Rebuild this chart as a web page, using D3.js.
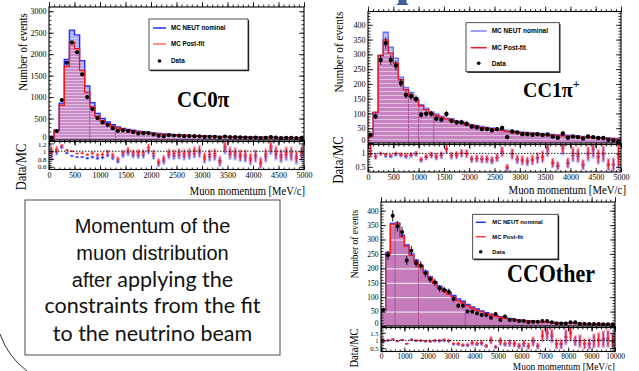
<!DOCTYPE html>
<html>
<head>
<meta charset="utf-8">
<script src="https://cdn.jsdelivr.net/npm/d3@7"></script>
<style>
  body { margin: 0; background: #fff; }
  svg { display: block; }
</style>
</head>
<body>
<svg id="chart" width="639" height="371"></svg>
<script>
// ---- CC0pi : 50 bins of 100 MeV/c
const nominalA = [60, 235, 860, 1880, 2560, 2450, 1850, 1260, 870, 620, 500, 420, 355, 305, 272, 248, 226, 208, 192, 178,
  165, 153, 143, 134, 126, 119, 113, 108, 103, 99, 95, 91, 88, 85, 82, 79, 77, 75, 73, 71, 69, 67, 65, 63, 62, 60, 59, 57, 56, 55];
const postfitA = [52, 215, 810, 1720, 2280, 2130, 1620, 1110, 770, 555, 450, 380, 322, 278, 248, 227, 207, 190, 176, 163,
  151, 140, 131, 123, 116, 109, 104, 99, 94, 90, 87, 83, 80, 77, 75, 72, 70, 68, 66, 64, 62, 61, 59, 58, 56, 55, 53, 52, 51, 50];
const dataA = [55, 210, 930, 1800, 2270, 2045, 1530, 1000, 720, 510, 410, 350, 275, 215, 225, 210, 182, 150, 158, 160,
  128, 98, 85, 112, 105, 100, 90, 92, 90, 86, 72, 74, 75, 58, 82, 68, 66, 62, 58, 52, 56, 44, 52, 68, 54, 46, 50, 50, 44, 48];
const ratioPostA = [0.96, 1.05, 1.14, 1.03, 1.0, 0.94, 0.95, 0.91, 0.95, 0.9, 0.92, 0.98, 0.9, 0.8, 0.96, 1.03, 0.96, 0.96, 0.96, 1.09,
  0.94, 0.73, 0.8, 0.96, 0.94, 0.96, 0.94, 0.96, 1.0, 1.02, 0.85, 0.92, 0.94, 0.76, 1.12, 0.98, 0.96, 0.91, 0.9, 0.82,
  0.9, 0.72, 0.92, 1.12, 0.98, 0.9, 0.96, 0.96, 0.86, 0.96];
const ratioNomA = [0.9, 0.98, 1.1, 0.95, 0.88, 0.85, 0.85, 0.82, 0.85, 0.82, 0.84, 0.9, 0.83, 0.74, 0.9, 0.96, 0.9, 0.9, 0.9, 1.02,
  0.88, 0.68, 0.75, 0.9, 0.88, 0.9, 0.88, 0.9, 0.94, 0.96, 0.8, 0.86, 0.88, 0.72, 1.06, 0.92, 0.9, 0.86, 0.85, 0.77,
  0.85, 0.68, 0.86, 1.06, 0.92, 0.85, 0.91, 0.9, 0.81, 0.9];
const xTicksA = [0, 500, 1000, 1500, 2000, 2500, 3000, 3500, 4000, 4500, 5000];
const yTicksA = [0, 500, 1000, 1500, 2000, 2500, 3000];
const rTicksA = [0.6, 0.8, 1, 1.2];
const splitsA = [800, 1300];

// ---- CC1pi+ : 50 bins of 100 MeV/c
const nominalB = [22, 101, 296, 375, 324, 287, 223, 188, 171, 152, 130, 118, 105, 98, 90, 84, 82, 75, 70, 65,
  62, 59, 56, 53, 51, 47, 45, 43, 41, 38, 37, 36, 35, 33, 32, 30, 29, 28, 27, 26, 25, 24, 22, 21, 20, 19, 18, 17, 16, 15];
const postfitB = [23, 104, 296, 349, 304, 270, 214, 180, 163, 146, 126, 113, 101, 93, 87, 81, 77, 71, 68, 62,
  59, 55, 52, 50, 47, 44, 42, 39, 37, 35, 34, 33, 32, 29, 28, 27, 26, 25, 24, 23, 22, 21, 20, 19, 18, 17, 16, 15, 14, 12];
const dataB = [28, 90, 281, 338, 281, 262, 203, 163, 158, 149, 96, 99, 99, 82, 79, 98, 75, 70, 70, 65,
  56, 53, 47, 47, 43, 47, 51, 20, 39, 36, 30, 30, 28, 30, 27, 29, 22, 18, 32, 18, 22, 20, 15, 22, 20, 17, 17, 11, 9, 6];
const ratioPostB = [1.09, 0.88, 0.99, 0.96, 0.93, 1.0, 0.96, 0.93, 0.96, 1.0, 0.78, 0.88, 0.95, 0.9, 0.95, 1.18, 0.93, 0.95, 1.02, 1.0,
  0.8, 0.82, 0.8, 0.8, 0.76, 0.85, 1.08, 0.48, 1.0, 0.8, 0.76, 0.72, 0.78, 0.85, 0.9, 1.2, 0.66, 0.56, 1.27, 0.66,
  1.0, 0.96, 0.6, 1.02, 1.2, 0.9, 1.02, 0.6, 0.6, 0.92];
const ratioNomB = [1.1, 0.9, 0.99, 0.9, 0.88, 0.95, 0.93, 0.88, 0.92, 0.97, 0.75, 0.85, 0.93, 0.86, 0.92, 1.14, 0.9, 0.92, 1.0, 0.98,
  0.78, 0.8, 0.77, 0.77, 0.73, 0.83, 1.05, 0.46, 0.95, 0.76, 0.72, 0.68, 0.74, 0.8, 0.85, 1.12, 0.62, 0.52, 1.18, 0.62,
  0.92, 0.88, 0.55, 0.95, 1.12, 0.84, 0.95, 0.56, 0.56, 0.84];
const xTicksB = [0, 500, 1000, 1500, 2000, 2500, 3000, 3500, 4000, 4500, 5000];
const yTicksB = [0, 50, 100, 150, 200, 250, 300, 350, 400];
const rTicksB = [0.5, 1];
const splitsB = [800, 1000, 1300];

// ---- CCOther : 50 bins of 200 MeV/c
const nominalC = [57, 255, 356, 357, 315, 281, 250, 228, 210, 190, 170, 153, 138, 126, 116, 106, 94, 86, 75, 66,
  59, 52, 46, 41, 37, 32, 29, 26, 23, 21, 19, 18, 17, 16, 15, 14, 13, 12, 11, 10, 10, 9, 9, 8, 8, 7, 7, 6, 6, 6];
const postfitC = [55, 250, 352, 355, 310, 276, 245, 222, 205, 185, 165, 148, 133, 120, 110, 100, 88, 80, 70, 62,
  55, 49, 43, 38, 34, 30, 27, 24, 22, 20, 18, 17, 16, 15, 14, 13, 12, 11, 10, 10, 9, 9, 8, 8, 7, 7, 7, 6, 6, 5];
const dataC = [56, 245, 382, 346, 326, 227, 261, 218, 210, 183, 162, 152, 131, 125, 119, 94, 70, 70, 50, 50,
  44, 38, 38, 29, 42, 21, 33, 21, 21, 17, 17, 13, 15, 15, 17, 17, 13, 9, 9, 9, 13, 13, 8, 8, 7, 7, 7, 6, 6, 6];
const ratioPostC = [1.0, 1.02, 1.08, 0.96, 1.04, 0.8, 1.06, 1.0, 1.0, 0.96, 0.96, 1.0, 1.0, 1.04, 1.0, 0.8, 0.8, 0.72, 0.72, 0.86,
  0.8, 0.86, 0.66, 1.06, 0.6, 0.96, 0.8, 0.86, 0.8, 0.66, 0.8, 0.66, 0.96, 0.66, 1.36, 1.52, 1.36, 0.8, 0.8, 1.26,
  1.56, 1.0, 1.0, 0.8, 0.8, 1.0, 1.06, 1.12, 1.16, 1.0];
const ratioNomC = [0.97, 0.99, 1.07, 0.95, 1.02, 0.78, 1.04, 0.97, 0.98, 0.94, 0.93, 0.97, 0.96, 0.99, 0.95, 0.76, 0.75, 0.67, 0.67, 0.81,
  0.75, 0.81, 0.62, 0.98, 0.55, 0.9, 0.75, 0.8, 0.76, 0.63, 0.76, 0.62, 0.9, 0.62, 1.28, 1.42, 1.25, 0.73, 0.73, 1.2,
  1.46, 0.95, 0.9, 0.76, 0.75, 0.95, 1.0, 1.06, 1.1, 0.95];
const xTicksC = [0, 1000, 2000, 3000, 4000, 5000, 6000, 7000, 8000, 9000, 10000];
const yTicksC = [0, 50, 100, 150, 200, 250, 300, 350, 400];
const rTicksC = [0.5, 1, 1.5];
const splitsC = [600, 1600, 3600];

const legendLabels = ['MC NEUT nominal', 'MC Post-fit', 'Data'];
const noteLines = [
  [['Momentum of the', 'sans']],
  [['muon distribution', 'sans']],
  [['after', 'sans'], [' applying the', 'lato']],
  [['constraints from the fit', 'lato']],
  [['to the neutrino beam', 'lato']]
];

const SERIF = '"Liberation Serif", "DejaVu Serif", serif';
const SANS = '"Liberation Sans", Arial, sans-serif';

const svg = d3.select('#chart');
const defs = svg.append('defs');

function makeHatch(id, base, stripe, step, y0) {
  const p = defs.append('pattern')
    .attr('id', id)
    .attr('patternUnits', 'userSpaceOnUse')
    .attr('x', 0).attr('y', y0)
    .attr('width', 10).attr('height', step);
  p.append('rect').attr('width', 10).attr('height', step).attr('fill', base);
  p.append('rect').attr('width', 10).attr('height', 0.9).attr('fill', stripe);
}

function label(parent, x, y, s, size, o = {}) {
  const t = parent.append('text')
    .attr('transform', `translate(${x},${y})${o.rot ? ' rotate(-90)' : ''} scale(1,${o.sy || 1})`)
    .attr('font-family', o.family || SERIF)
    .attr('font-size', size)
    .attr('font-weight', o.bold ? 'bold' : 'normal')
    .attr('text-anchor', o.anchor || 'start')
    .attr('fill', o.fill || '#000')
    .text(s);
  return t;
}

function tickSet(g, scale, orient, values, size, withLabels, fs) {
  const gen = {left: d3.axisLeft, right: d3.axisRight, top: d3.axisTop, bottom: d3.axisBottom}[orient];
  const ax = gen(scale).tickValues(values).tickSize(-size).tickPadding(2.5)
    .tickFormat(withLabels ? d3.format('') : '');
  const a = g.append('g').call(ax);
  a.select('.domain').remove();
  a.selectAll('line').attr('stroke', '#000').attr('stroke-width', 0.8);
  a.selectAll('text').attr('font-family', SERIF).attr('font-size', fs).attr('fill', '#000');
  if (!withLabels) a.selectAll('text').remove();
  return a;
}

function drawPanel(p) {
  const g = svg.append('g');
  const n = p.data.length;
  const bw = p.xMax / n;
  const x = d3.scaleLinear().domain([0, p.xMax]).range([p.x0, p.x1]);
  const y = d3.scaleLinear().domain([0, p.yMax]).range([p.yBottom, p.yTop]);
  const r = d3.scaleLinear().domain(p.rDomain).range([p.rBottom, p.rTop]);

  makeHatch('fill-' + p.id, p.fillBase, p.fillStripe, p.hatch, p.yBottom);
  makeHatch('blue-' + p.id, p.blueBase, p.blueStripe, p.hatch, p.yBottom);

  defs.append('clipPath').attr('id', 'clipU-' + p.id)
    .append('rect').attr('x', p.x0).attr('y', p.yTop).attr('width', p.x1 - p.x0).attr('height', p.yBottom - p.yTop);
  defs.append('clipPath').attr('id', 'clipR-' + p.id)
    .append('rect').attr('x', p.x0).attr('y', p.rTop).attr('width', p.x1 - p.x0).attr('height', p.rBottom - p.rTop);

  const steps = vals => [[0, 0], ...vals.map((v, i) => [i * bw, v]), [p.xMax, vals[n - 1]], [p.xMax, 0]];
  const area = d3.area().curve(d3.curveStepAfter).x(d => x(d[0])).y0(y(0)).y1(d => y(d[1]));
  const line = d3.line().curve(d3.curveStepAfter).x(d => x(d[0])).y(d => y(d[1]));

  const up = g.append('g').attr('clip-path', `url(#clipU-${p.id})`);
  up.append('path').attr('d', area(steps(p.nominal))).attr('fill', `url(#blue-${p.id})`);
  up.append('path').attr('d', area(steps(p.postfit))).attr('fill', `url(#fill-${p.id})`);

  // fit binning boundaries inside the filled histogram
  up.selectAll('line.split').data(p.splits).join('line')
    .attr('x1', d => x(d)).attr('x2', d => x(d))
    .attr('y1', y(0)).attr('y2', d => y(p.postfit[Math.floor(d / bw)]))
    .attr('stroke', p.splitColor).attr('stroke-width', 0.9).attr('stroke-dasharray', '1.5,1');

  up.append('path').attr('d', line(steps(p.nominal))).attr('fill', 'none')
    .attr('stroke', p.blue).attr('stroke-width', 1.4);
  up.append('path').attr('d', line(steps(p.postfit))).attr('fill', 'none')
    .attr('stroke', p.red).attr('stroke-width', 1.4);

  // data with statistical errors
  const cx = i => x((i + 0.5) * bw);
  up.selectAll('line.err').data(p.data).join('line')
    .attr('x1', (d, i) => cx(i)).attr('x2', (d, i) => cx(i))
    .attr('y1', d => y(d - Math.sqrt(d))).attr('y2', d => y(d + Math.sqrt(d)))
    .attr('stroke', '#000').attr('stroke-width', 0.9);
  up.selectAll('circle').data(p.data).join('circle')
    .attr('cx', (d, i) => cx(i)).attr('cy', d => y(d)).attr('r', p.dot).attr('fill', '#000');

  // ratio pad
  const rp = g.append('g').attr('clip-path', `url(#clipR-${p.id})`);
  const series = [
    {vals: p.rNom, col: p.ratioBlue, band: 'rgba(110,120,255,0.4)'},
    {vals: p.rPost, col: p.ratioRed, band: 'rgba(255,110,130,0.4)'}
  ];
  const half = bw * 0.33 * (p.x1 - p.x0) / p.xMax;
  series.forEach(s => {
    const errs = s.vals.map((v, i) => v / Math.sqrt(p.data[i]));
    rp.selectAll(null).data(s.vals).join('rect')
      .attr('x', (d, i) => cx(i) - 1.6).attr('width', 3.2)
      .attr('y', (d, i) => r(d + errs[i] * 1.3)).attr('height', (d, i) => r(d - errs[i] * 1.3) - r(d + errs[i] * 1.3))
      .attr('fill', s.band);
    rp.selectAll(null).data(s.vals).join('line')
      .attr('x1', (d, i) => cx(i)).attr('x2', (d, i) => cx(i))
      .attr('y1', (d, i) => r(d - errs[i])).attr('y2', (d, i) => r(d + errs[i]))
      .attr('stroke', s.col).attr('stroke-width', 1);
    rp.selectAll(null).data(s.vals).join('line')
      .attr('x1', (d, i) => cx(i) - half).attr('x2', (d, i) => cx(i) + half)
      .attr('y1', d => r(d)).attr('y2', d => r(d))
      .attr('stroke', s.col).attr('stroke-width', 1);
  });
  g.append('line').attr('x1', p.x0).attr('x2', p.x1).attr('y1', r(1)).attr('y2', r(1))
    .attr('stroke', '#000').attr('stroke-width', 0.9).attr('stroke-dasharray', '1.5,1.5');

  // axes: major + minor ticks, inward, on all four sides of both pads
  const xMinor = d3.range(0, p.xMax + 1, p.xMinor);
  const yMinor = d3.range(0, p.yMax, p.yMinor);
  const rMinor = d3.range(Math.ceil(p.rDomain[0] / p.rMinor) * p.rMinor, p.rDomain[1], p.rMinor);
  const ax = g.append('g');
  const at = (tx, ty) => ax.append('g').attr('transform', `translate(${tx},${ty})`);
  // upper pad
  tickSet(at(0, p.yBottom), x, 'top', p.xTicks, 5, false);
  tickSet(at(0, p.yBottom), x, 'top', xMinor, 2.5, false);
  tickSet(at(0, p.yTop), x, 'bottom', p.xTicks, 5, false);
  tickSet(at(0, p.yTop), x, 'bottom', xMinor, 2.5, false);
  const yl = tickSet(at(p.x0, 0), y, 'left', p.yTicks, 5, true, p.tickFs);
  yl.selectAll('text').filter(d => d === 0).attr('dy', '-0.05em');
  tickSet(at(p.x0, 0), y, 'left', yMinor, 2.5, false);
  tickSet(at(p.x1, 0), y, 'right', p.yTicks, 5, false);
  tickSet(at(p.x1, 0), y, 'right', yMinor, 2.5, false);
  // ratio pad
  tickSet(at(0, p.rBottom), x, 'bottom', p.xTicks, 4, true, p.tickFs);
  tickSet(at(0, p.rBottom), x, 'bottom', xMinor, 2, false);
  tickSet(at(0, p.rTop), x, 'top', p.xTicks, 4, false);
  tickSet(at(0, p.rTop), x, 'top', xMinor, 2, false);
  const rl = tickSet(at(p.x0, 0), r, 'left', p.rTicks, 5, true, p.rTickFs);
  const rTopTick = p.rTicks[p.rTicks.length - 1];
  rl.selectAll('text').filter(d => d === rTopTick).attr('dy', p.rTopDy);
  tickSet(at(p.x0, 0), r, 'left', rMinor, 2.5, false);
  tickSet(at(p.x1, 0), r, 'right', p.rTicks, 5, false);
  tickSet(at(p.x1, 0), r, 'right', rMinor, 2.5, false);

  // frames
  g.append('rect').attr('x', p.x0).attr('y', p.yTop).attr('width', p.x1 - p.x0).attr('height', p.yBottom - p.yTop)
    .attr('fill', 'none').attr('stroke', '#000').attr('stroke-width', 1.1);
  g.append('rect').attr('x', p.x0).attr('y', p.rTop).attr('width', p.x1 - p.x0).attr('height', p.rBottom - p.rTop)
    .attr('fill', 'none').attr('stroke', '#000').attr('stroke-width', 1.1);

  // legend
  const L = p.legend;
  const lg = g.append('g');
  lg.append('rect').attr('x', L.x + 1.2).attr('y', L.y + 1.2).attr('width', L.w).attr('height', L.h).attr('fill', '#222');
  lg.append('rect').attr('x', L.x).attr('y', L.y).attr('width', L.w).attr('height', L.h)
    .attr('fill', '#fff').attr('stroke', '#222').attr('stroke-width', 0.8);
  const marks = [
    {type: 'line', col: p.legendBlue},
    {type: 'line', col: p.legendRed},
    {type: 'dot'}
  ];
  legendLabels.forEach((s, i) => {
    const yy = L.rows[i];
    if (marks[i].type === 'line') {
      lg.append('line').attr('x1', L.lx0).attr('x2', L.lx1).attr('y1', yy).attr('y2', yy)
        .attr('stroke', marks[i].col).attr('stroke-width', 1.5);
    } else {
      lg.append('circle').attr('cx', (L.lx0 + L.lx1) / 2).attr('cy', yy).attr('r', 1.8).attr('fill', '#000');
    }
    label(lg, L.tx, yy + L.fs * 0.35, s, L.fs, {family: SANS, bold: true});
  });

  // titles
  const T = p.titles;
  label(g, T.yx, T.yy, 'Number of events', T.yfs, {rot: true, anchor: 'middle', sy: 1.15});
  label(g, T.rx, T.ry, 'Data/MC', T.rfs, {rot: true, anchor: 'middle', sy: 1.1});
  label(g, T.xx, T.xy, 'Muon momentum [MeV/c]', T.xfs, {anchor: 'end', sy: 1.15});

  const tag = label(g, p.tag.x, p.tag.y, '', p.tag.fs, {bold: true, sy: 1.1});
  tag.append('tspan').text(p.tag.text);
  if (p.tag.sup) tag.append('tspan').attr('dy', -p.tag.fs * 0.4).attr('font-size', p.tag.fs * 0.6).text(p.tag.sup);
}

const panels = [
  {
    id: 'a', x0: 49, x1: 304, yTop: 7, yBottom: 140, rTop: 141.5, rBottom: 169.5,
    xMax: 5000, yMax: 3100, rDomain: [0.53, 1.25],
    xTicks: xTicksA, xMinor: 100, yTicks: yTicksA, yMinor: 100, rTicks: rTicksA, rMinor: 0.05,
    nominal: nominalA, postfit: postfitA, data: dataA, rNom: ratioNomA, rPost: ratioPostA, splits: splitsA,
    hatch: 3, fillBase: '#c98bc6', fillStripe: '#e8c6e6', blueBase: '#a7affa', blueStripe: '#cdd2fb',
    splitColor: '#9b2f7c', blue: '#1f2cff', red: '#f01818', ratioBlue: '#2230ff', ratioRed: '#ff1e1e',
    legendBlue: '#1f2cff', legendRed: '#ff6868', dot: 2.1, tickFs: 8, rTickFs: 6.8, rTopDy: '0.5em',
    legend: {x: 149, y: 19, w: 99, h: 51, rows: [28, 44, 61], lx0: 153, lx1: 166, tx: 171, fs: 6.3},
    titles: {yx: 27, yy: 52, yfs: 10.8, rx: 26, ry: 167, rfs: 12.5, xx: 305, xy: 194.5, xfs: 10.6},
    tag: {text: 'CC0π', x: 177, y: 107, fs: 21}
  },
  {
    id: 'b', x0: 368, x1: 621, yTop: 11.5, yBottom: 143, rTop: 144.5, rBottom: 172,
    xMax: 5000, yMax: 445, rDomain: [0.31, 1.33],
    xTicks: xTicksB, xMinor: 100, yTicks: yTicksB, yMinor: 10, rTicks: rTicksB, rMinor: 0.1,
    nominal: nominalB, postfit: postfitB, data: dataB, rNom: ratioNomB, rPost: ratioPostB, splits: splitsB,
    hatch: 4, fillBase: '#c684c2', fillStripe: '#e6c4e4', blueBase: '#b2b6f6', blueStripe: '#d4d6fb',
    splitColor: '#9b2f7c', blue: '#6b74ff', red: '#e81a2a', ratioBlue: '#2230ff', ratioRed: '#ff1e1e',
    legendBlue: '#7a80ff', legendRed: '#ee1c24', dot: 2.2, tickFs: 8, rTickFs: 8, rTopDy: '0.32em',
    legend: {x: 466, y: 22.7, w: 93.3, h: 49, rows: [31, 47.7, 63.3], lx0: 470.7, lx1: 486.7, tx: 491.7, fs: 6.5},
    titles: {yx: 343, yy: 52, yfs: 11.3, rx: 343, ry: 160, rfs: 12.8, xx: 626, xy: 194, xfs: 10.8},
    tag: {text: 'CC1π', sup: '+', x: 523, y: 97, fs: 20}
  },
  {
    id: 'c', x0: 381, x1: 615, yTop: 202, yBottom: 326, rTop: 327.5, rBottom: 351.5,
    xMax: 10000, yMax: 430, rDomain: [0.28, 1.85],
    xTicks: xTicksC, xMinor: 200, yTicks: yTicksC, yMinor: 10, rTicks: rTicksC, rMinor: 0.1,
    nominal: nominalC, postfit: postfitC, data: dataC, rNom: ratioNomC, rPost: ratioPostC, splits: splitsC,
    hatch: 14.4, fillBase: '#c47cbb', fillStripe: '#ffffff', blueBase: '#a9b0f6', blueStripe: '#d4d6fb',
    splitColor: '#93306f', blue: '#2230ff', red: '#ff1e1e', ratioBlue: '#2230ff', ratioRed: '#ff1e1e',
    legendBlue: '#2230ff', legendRed: '#ff3a3a', dot: 2, tickFs: 7.5, rTickFs: 6.6, rTopDy: '0.45em',
    legend: {x: 472.7, y: 214.3, w: 85.3, h: 44.7, rows: [222.3, 236.7, 251.7], lx0: 475.7, lx1: 485.7, tx: 492.3, fs: 5.8},
    titles: {yx: 358, yy: 244, yfs: 9.6, rx: 358, ry: 348, rfs: 10.5, xx: 615, xy: 370, xfs: 9.4},
    tag: {text: 'CCOther', x: 507, y: 282, fs: 22}
  }
];

// slide bits: box around the note, decorative arc, title fragment
const note = svg.append('g');
note.append('rect').attr('x', 25).attr('y', 200).attr('width', 255).attr('height', 155)
  .attr('fill', '#fff').attr('stroke', '#4a4a4a').attr('stroke-width', 1);
const lineY = [233.3, 260, 286.7, 313.3, 340.7];
noteLines.forEach((parts, i) => {
  const t = note.append('text').attr('x', 152.5).attr('y', lineY[i]).attr('text-anchor', 'middle').attr('fill', '#111');
  parts.forEach(([s, f]) => {
    t.append('tspan')
      .attr('font-family', f === 'sans' ? SANS : 'Lato, "Open Sans", sans-serif')
      .attr('font-size', f === 'sans' ? 20 : 21.5)
      .text(s);
  });
});
svg.append('path').attr('d', 'M0,334 Q8,357 27,371').attr('fill', 'none').attr('stroke', '#333').attr('stroke-width', 1);
svg.append('path').attr('d', 'M398.5,0 L406.5,0 L406.5,3 L409,5 L396,5 L398.5,3 Z').attr('fill', '#3b5b9b');

panels.forEach(drawPanel);
</script>
</body>
</html>
